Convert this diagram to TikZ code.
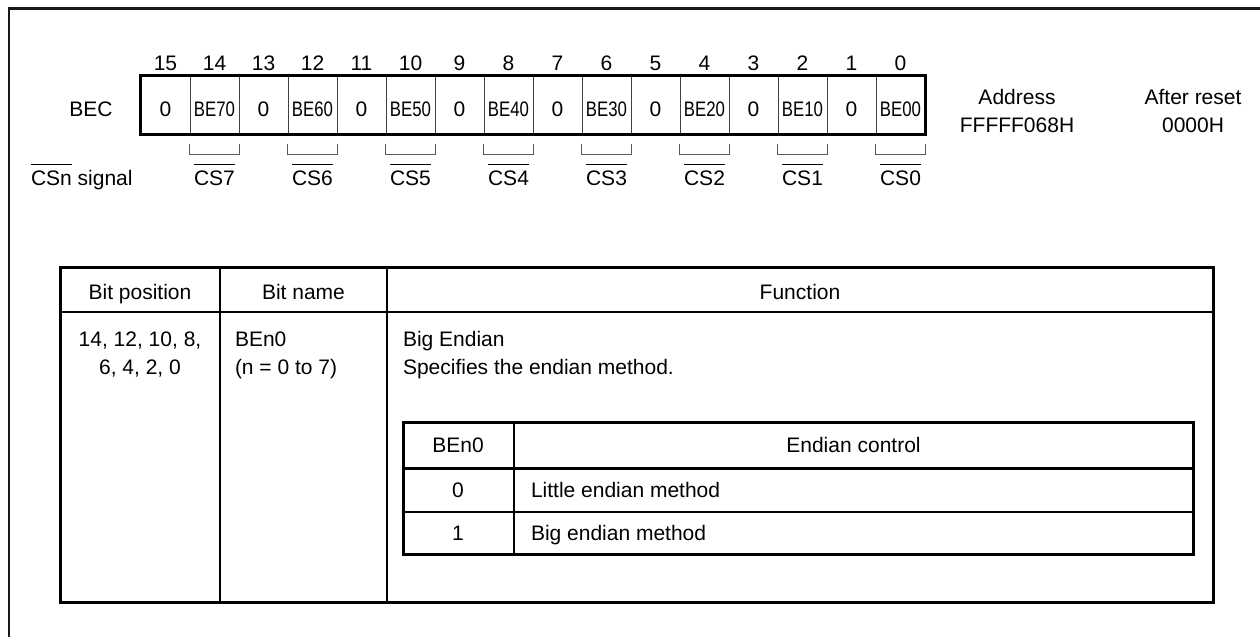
\documentclass[tikz,border=0pt]{standalone}
\usepackage{fontspec}
\usepackage{graphicx}
\setmainfont{Liberation Sans}
\usetikzlibrary{calc}
\newcommand\myovl[1]{\vbox{\hrule height 1pt\kern 5pt\hbox{#1}}}
\newcommand\cond[1]{\scalebox{0.8}[1]{#1}}
\tikzset{
  txt/.style={font=\fontsize{21}{28}\selectfont, inner sep=0pt, outer sep=0pt},
  cell/.style={draw=black!75, line width=1pt, minimum width=49pt, minimum height=58pt, inner sep=0pt},
  thickline/.style={line width=3pt},
  midline/.style={line width=2pt},
  bracket/.style={draw=black!65, line width=1pt},
}
\begin{document}
\begin{tikzpicture}[x=1pt,y=-1pt]
\useasboundingbox (0,0) rectangle (1260,637);
% outer frame (top and left only)
\draw[line width=2.5pt, black!90] (1260,8.5) -- (9,8.5) -- (9,637);

% register
\foreach \b in {0,...,15} {
  \pgfmathsetmacro\xc{141+49*(15-\b)+24.5}
  \node[cell] (r\b) at (\xc,105) {};
  \node[txt, anchor=base] (n\b) at (\xc,70) {\b};
  \ifodd\b
    \node[txt, anchor=base] (t\b) at (\xc,116) {0};
  \else
    \pgfmathtruncatemacro\cs{\b/2}
    \node[txt, anchor=base] (t\b) at (\xc,116) {\cond{BE\cs0}};
    \draw[bracket] ($(r\b.south west)+(0,9)$) -- ($(r\b.south west)+(0,20)$) -- ($(r\b.south east)+(0,20)$) -- ($(r\b.south east)+(0,9)$);
    \node[txt, anchor=base] (cs\b) at (\xc,185) {\myovl{CS\cs}};
  \fi
}
\draw[line width=2.5pt] (r15.north west) rectangle (r0.south east);
\node[txt, anchor=base] (bec) at (91,116) {BEC};
\node[txt, anchor=base west] (csn) at (31,185) {\myovl{CSn} signal};
\node[txt, align=center, anchor=base] (addr) at (1017,132) {Address\\FFFFF068H};
\node[txt, align=center, anchor=base] (rst) at (1193,132) {After reset\\0000H};

% main table
\draw[thickline] (60,267) rectangle (1213,602);
\draw[midline] (60,312) -- (1213,312);
\draw[midline] (220,267) -- (220,602);
\draw[midline] (387,267) -- (387,602);
\node[txt, anchor=base] (h1) at (140,299) {Bit position};
\node[txt, anchor=base] (h2) at (303.5,299) {Bit name};
\node[txt, anchor=base] (h3) at (800,299) {Function};
\node[txt, align=center, anchor=base] (pos) at (140,374) {14, 12, 10, 8,\\6, 4, 2, 0};
\node[txt, align=left, anchor=base west] (bname) at (235,374) {BEn0\\(n = 0 to 7)};
\node[txt, align=left, anchor=base west] (func) at (403,374) {Big Endian\\Specifies the endian method.};

% inner table
\draw[thickline] (403,422) rectangle (1193,554);
\draw[thickline] (403,468) -- (1193,468);
\draw[midline] (403,512) -- (1193,512);
\draw[midline] (514,422) -- (514,554);
\node[txt, anchor=base] (ih1) at (458,452) {BEn0};
\node[txt, anchor=base] (ih2) at (853.5,452) {Endian control};
\node[txt, anchor=base] (v0) at (458,497) {0};
\node[txt, anchor=base west] (d0) at (531,497) {Little endian method};
\node[txt, anchor=base] (v1) at (458,540) {1};
\node[txt, anchor=base west] (d1) at (531,540) {Big endian method};
\end{tikzpicture}
\end{document}
